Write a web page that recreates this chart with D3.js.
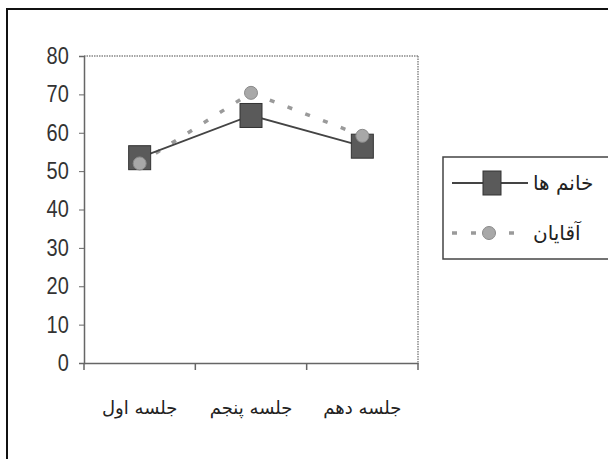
<!DOCTYPE html>
<html><head><meta charset="utf-8">
<script src="https://cdn.jsdelivr.net/npm/d3@7"></script>
<style>
html,body{margin:0;padding:0;background:#fff;}
svg{display:block;}
</style></head>
<body>
<svg id="c" width="608" height="459"></svg>
<script>
const categories = ["جلسه اول", "جلسه پنجم", "جلسه دهم"];
const women = [53.5, 64.5, 56.5];
const men = [52, 70.4, 59.2];
const seriesNames = ["خانم ها", "آقایان"];
const yTicks = [0, 10, 20, 30, 40, 50, 60, 70, 80];

(function () {
const svg = d3.select("#c");
const pL = 84, pR = 418, pT = 56, pB = 363;
const ff = "'Liberation Sans', Arial, sans-serif";
const fa = "'DejaVu Sans', sans-serif";

// outer frame
svg.append("rect").attr("x", 7).attr("y", 9).attr("width", 610).attr("height", 460)
  .attr("fill", "#fff").attr("stroke", "#111").attr("stroke-width", 2);

const x = d3.scaleBand().domain(categories).range([pL, pR]).padding(0);
const y = d3.scaleLinear().domain([0, 80]).range([pB, pT]);

// plot frame (top and right dotted)
svg.append("line").attr("x1", pL).attr("x2", pR).attr("y1", pT).attr("y2", pT)
  .attr("stroke", "#888").attr("stroke-width", 1.5).attr("stroke-dasharray", "1.5,1");
svg.append("line").attr("x1", pR).attr("x2", pR).attr("y1", pT).attr("y2", pB)
  .attr("stroke", "#888").attr("stroke-width", 1.5).attr("stroke-dasharray", "1.5,1");

// y axis
const ya = svg.append("g").attr("transform", `translate(${pL},0)`)
  .call(d3.axisLeft(y).tickValues(yTicks).tickSize(5).tickPadding(11));
ya.select(".domain").attr("stroke", "#666").attr("stroke-width", 1.5);
ya.selectAll(".tick line").attr("stroke", "#666");
ya.selectAll("text").attr("font-family", ff).attr("font-size", 21).attr("fill", "#333")
  .attr("transform", "scale(0.95,1.1)");

// x axis
const xa = svg.append("g").attr("transform", `translate(0,${pB})`)
  .call(d3.axisBottom(x).tickSize(0).tickPadding(38));
xa.select(".domain").attr("stroke", "#666").attr("stroke-width", 1.5);
xa.selectAll("text").attr("font-family", fa).attr("font-size", 18).attr("fill", "#222");
// category boundary ticks
const bounds = categories.map(c => x(c)).concat([pR]);
svg.selectAll(".bt").data(bounds).enter().append("line")
  .attr("x1", d => d).attr("x2", d => d).attr("y1", pB).attr("y2", pB + 7)
  .attr("stroke", "#666").attr("stroke-width", 1.5);

const cx = c => x(c) + x.bandwidth() / 2;

const lineM = d3.line().x((d, i) => cx(categories[i])).y(d => y(d));
// men line (dashed)
svg.append("path").datum(men).attr("d", lineM).attr("fill", "none")
  .attr("stroke", "#9a9a9a").attr("stroke-width", 3.5).attr("stroke-dasharray", "5,14");
// women line
svg.append("path").datum(women).attr("d", lineM).attr("fill", "none")
  .attr("stroke", "#444").attr("stroke-width", 1.8);

// women squares
svg.selectAll(".sq").data(women).enter().append("rect")
  .attr("x", (d, i) => cx(categories[i]) - 11).attr("y", d => y(d) - 12)
  .attr("width", 22).attr("height", 24).attr("fill", "#5a5a5a").attr("stroke", "#333").attr("stroke-width", 1);

// men circles
svg.selectAll(".ci").data(men).enter().append("circle")
  .attr("cx", (d, i) => cx(categories[i])).attr("cy", d => y(d)).attr("r", 6.5)
  .attr("fill", "#a8a8a8").attr("stroke", "#8a8a8a").attr("stroke-width", 1);

// legend
const lg = svg.append("g");
lg.append("rect").attr("x", 443).attr("y", 157).attr("width", 200).attr("height", 102)
  .attr("fill", "#fff").attr("stroke", "#444").attr("stroke-width", 1.5);
const ly1 = 183, ly2 = 233;
lg.append("line").attr("x1", 452).attr("x2", 528).attr("y1", ly1).attr("y2", ly1)
  .attr("stroke", "#444").attr("stroke-width", 1.8);
lg.append("rect").attr("x", 483).attr("y", ly1 - 12).attr("width", 18).attr("height", 24)
  .attr("fill", "#5a5a5a").attr("stroke", "#333");
lg.append("line").attr("x1", 452).attr("x2", 528).attr("y1", ly2).attr("y2", ly2)
  .attr("stroke", "#9a9a9a").attr("stroke-width", 3.5).attr("stroke-dasharray", "5,14");
lg.append("circle").attr("cx", 489).attr("cy", ly2).attr("r", 6.5)
  .attr("fill", "#a8a8a8").attr("stroke", "#8a8a8a");
lg.selectAll(".lt").data(seriesNames).enter().append("text")
  .attr("x", 533).attr("y", (d, i) => (i === 0 ? ly1 : ly2) + 7)
  .attr("text-anchor", "start")
  .attr("font-family", fa).attr("font-size", 20).attr("fill", "#222").text(d => d);
})();
</script>
</body></html>
